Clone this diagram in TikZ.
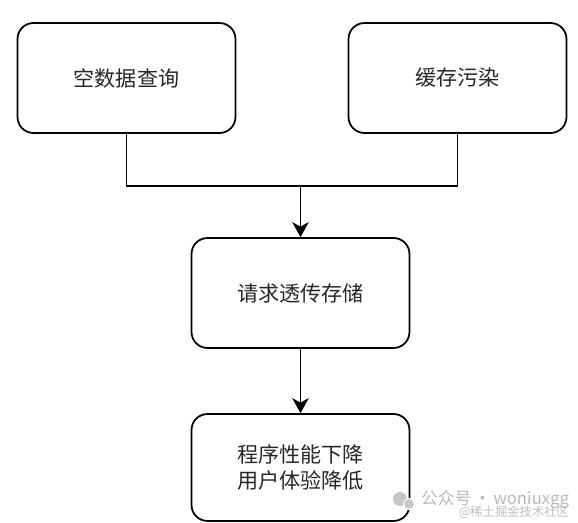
\documentclass[tikz,border=0pt]{standalone}
\usepackage{fontspec}
\newfontfamily\cjk{Noto Sans CJK SC}
\usetikzlibrary{arrows.meta}

\begin{document}
\begin{tikzpicture}[x=0.02cm,y=-0.02cm,>={Stealth[length=3mm,width=3.3mm,inset=0.9mm]},font=\cjk\fontsize{12}{15}\selectfont,line cap=round]
\tikzset{stagebox/.style={draw,line width=1pt,rounded corners=0.32cm,minimum width=4.36cm,minimum height=2.2cm,align=center,text=black!85}}
\useasboundingbox (0,0) rectangle (578,523);
% causes
\node[stagebox] (empty) at (126.5,78) {空数据查询};
\node[stagebox] (pollute) at (457.5,78) {缓存污染};
% effects
\node[stagebox] (pass) at (300.5,293) {请求透传存储};
\node[stagebox,minimum height=2.14cm] (perf) at (300.5,467.5) {程序性能下降\\用户体验降低};
\coordinate (join) at (300.5,186);
\draw[line width=1pt] (empty.south) |- (join) -| (pollute.south);
\draw[->,line width=1pt] (join) -- (pass.north);
\draw[->,line width=1pt] (pass.south) -- (perf.north);
% watermark
\fill[gray!45] (400,499) circle (7);
\fill[gray!45,draw=white,line width=0.6pt] (409,504) circle (5.5);
\node[gray!55,anchor=west,font=\cjk\fontsize{9.5}{11}\selectfont] (wxname) at (415,500) {公众号\,·\,woniuxgg};
\node[gray!50,anchor=east,font=\cjk\fontsize{7}{8}\selectfont] (jjname) at (575,512) {@稀土掘金技术社区};
\end{tikzpicture}
\end{document}
